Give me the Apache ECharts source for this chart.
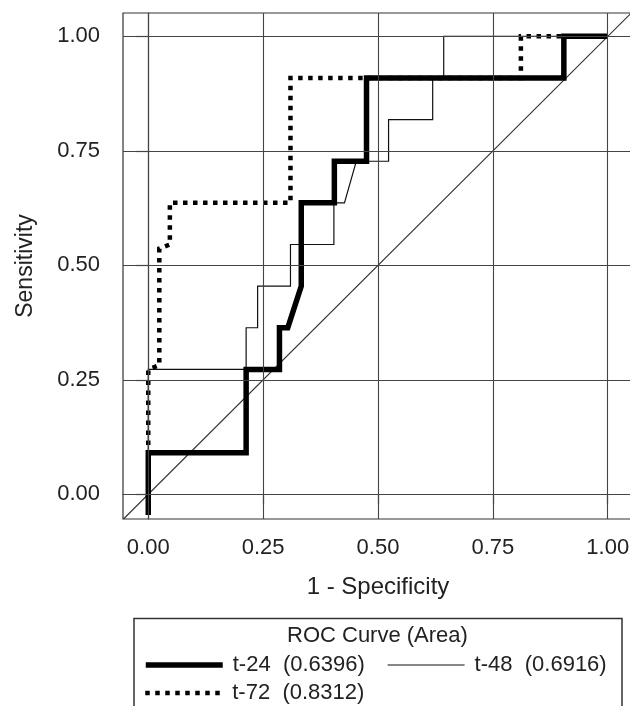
<!DOCTYPE html>
<html>
<head>
<meta charset="utf-8">
<script src="https://cdn.jsdelivr.net/npm/echarts@6/dist/echarts.min.js"></script>
<style>
  html, body { margin: 0; padding: 0; background: #fff; }
  #chart { width: 630px; height: 706px; }
</style>
</head>
<body>
<div id="chart"></div>
<script>
// ROC curves (x = 1 - specificity, y = sensitivity)
const fprT24 = [0, 0, 0.213, 0.213, 0.2855, 0.2855, 0.3036, 0.333, 0.333, 0.405, 0.405, 0.475, 0.475, 0.9045, 0.9045, 1];
const tprT24 = [-0.045, 0.0909, 0.0909, 0.2727, 0.2727, 0.3636, 0.3636, 0.4545, 0.6364, 0.6364, 0.7273, 0.7273, 0.9091, 0.9091, 1, 1];

const fprT48 = [0, 0, 0.213, 0.213, 0.238, 0.238, 0.3095, 0.3095, 0.404, 0.404, 0.427, 0.4527, 0.523, 0.523, 0.619, 0.619, 0.643, 0.643, 1];
const tprT48 = [-0.045, 0.2727, 0.2727, 0.3636, 0.3636, 0.4545, 0.4545, 0.5455, 0.5455, 0.6364, 0.6364, 0.7273, 0.7273, 0.8182, 0.8182, 0.9091, 0.9091, 1, 1];

const fprT72 = [0, 0, 0.024, 0.024, 0.047, 0.047, 0.3095, 0.3095, 0.811, 0.811, 1];
const tprT72 = [-0.045, 0.2727, 0.2818, 0.5364, 0.5455, 0.6364, 0.6364, 0.9091, 0.9091, 1, 1];

const seriesNames = ['t-24', 't-48', 't-72'];
const areas = ['0.6396', '0.6916', '0.8312'];

const xTicks = [0, 0.25, 0.5, 0.75, 1];
const yTicks = [0, 0.25, 0.5, 0.75, 1];
const chanceLine = [[-0.054, -0.054], [1.051, 1.051]];

const pairs = (xs, ys) => xs.map((x, i) => [x, ys[i]]);

const font = "'Liberation Sans', Arial, sans-serif";
const ink = '#222';
const areaOf = (name) => areas[seriesNames.indexOf(name)];

const chart = echarts.init(document.getElementById('chart'));

const legendBase = {
    orient: 'horizontal',
    padding: 0,
    itemWidth: 77,
    itemHeight: 14,
    selectedMode: false,
    itemStyle: { opacity: 0 },   // hide the little symbol in the middle of the line icon
    formatter: (name) => name + '  (' + areaOf(name) + ')',
    textStyle: { fontFamily: font, fontSize: 22, color: ink, padding: [0, 0, 0, 5] }
};

const option = {
    animation: false,
    backgroundColor: '#fff',
    title: {
        text: 'ROC Curve (Area)',
        left: 287,
        top: 625,
        padding: 0,
        textStyle: { fontFamily: font, fontSize: 22, fontWeight: 'normal', color: ink }
    },
    legend: [
        Object.assign({}, legendBase, { data: ['t-24'], left: 143, top: 654, lineStyle: { width: 5.5, color: '#000' } }),
        Object.assign({}, legendBase, { data: ['t-48'], left: 387, top: 654, lineStyle: { width: 1.2, color: '#111' } }),
        Object.assign({}, legendBase, { data: ['t-72'], left: 143, top: 682, lineStyle: { width: 4.5, color: '#000' } })
    ],
    graphic: [{
        type: 'rect',
        shape: { x: 134, y: 618.5, width: 488, height: 120 },
        style: { fill: 'none', stroke: '#333', lineWidth: 1.5 },
        silent: true
    }],
    grid: {
        left: 123,
        top: 13,
        right: -3,
        bottom: 187,
        outerBoundsMode: 'none',
        show: true,
        borderColor: '#333',
        borderWidth: 1.2
    },
    xAxis: {
        type: 'value',
        min: -0.055,
        max: 1.055,
        name: '1 - Specificity',
        nameLocation: 'middle',
        nameGap: 56,
        nameTextStyle: { fontFamily: font, fontSize: 24, color: ink },
        axisLine: { show: true, lineStyle: { color: '#333', width: 1.2 } },
        axisTick: { show: true, length: 10, customValues: xTicks, lineStyle: { color: '#333', width: 1.2 } },
        axisLabel: {
            customValues: xTicks,
            margin: 18,
            fontFamily: font, fontSize: 22, color: ink,
            formatter: (v) => v.toFixed(2)
        },
        splitLine: { show: false }
    },
    yAxis: {
        type: 'value',
        min: -0.054,
        max: 1.051,
        name: 'Sensitivity',
        nameLocation: 'middle',
        nameGap: 86,
        nameTextStyle: { fontFamily: font, fontSize: 23, color: ink },
        axisLine: { show: true, lineStyle: { color: '#333', width: 1.2 } },
        axisTick: { show: true, length: 12, customValues: yTicks, lineStyle: { color: '#333', width: 1.2 } },
        axisLabel: {
            customValues: yTicks,
            margin: 23,
            fontFamily: font, fontSize: 22, color: ink,
            formatter: (v) => v.toFixed(2)
        },
        splitLine: { show: false }
    },
    series: [
        {
            // grid lines + chance diagonal
            name: 'ref',
            type: 'line',
            data: chanceLine,
            symbol: 'none',
            silent: true,
            lineStyle: { color: '#333', width: 1.1 },
            markLine: {
                silent: true,
                symbol: 'none',
                label: { show: false },
                lineStyle: { color: '#444', width: 1.1, type: 'solid' },
                emphasis: { disabled: true },
                data: xTicks.map((v) => ({ xAxis: v })).concat(yTicks.map((v) => ({ yAxis: v })))
            }
        },
        {
            name: 't-72',
            type: 'line',
            data: pairs(fprT72, tprT72),
            symbol: 'none',
            itemStyle: { color: '#000' },
            lineStyle: { color: '#000', width: 4.5, type: [4.5, 5.5], cap: 'butt', join: 'miter' }
        },
        {
            name: 't-48',
            type: 'line',
            data: pairs(fprT48, tprT48),
            symbol: 'none',
            itemStyle: { color: '#111' },
            lineStyle: { color: '#111', width: 1.2, join: 'miter' }
        },
        {
            name: 't-24',
            type: 'line',
            data: pairs(fprT24, tprT24),
            symbol: 'none',
            itemStyle: { color: '#000' },
            lineStyle: { color: '#000', width: 5.5, cap: 'butt', join: 'miter' }
        }
    ]
};

chart.setOption(option);
</script>
</body>
</html>
